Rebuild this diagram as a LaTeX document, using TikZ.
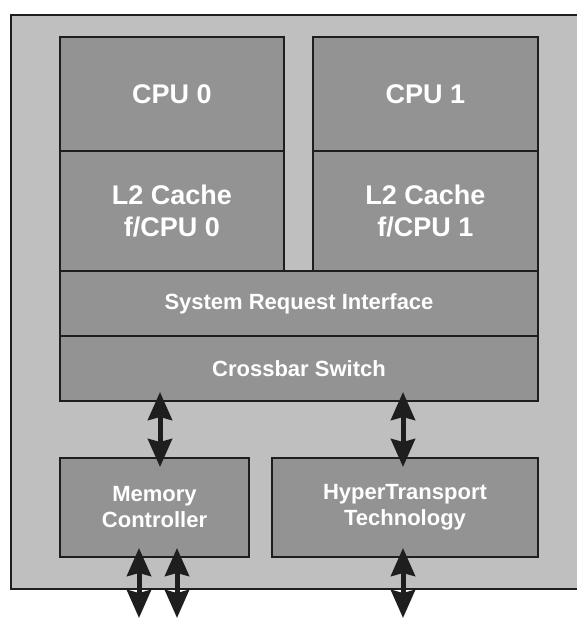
\documentclass[tikz,border=0pt]{standalone}
\usepackage{fontspec}
\setmainfont{Liberation Sans}
\usetikzlibrary{positioning,arrows.meta}

\definecolor{chipgray}{HTML}{BFBFBF}
\definecolor{boxgray}{HTML}{939393}
\definecolor{edgegray}{HTML}{1E1E1E}

\begin{document}
\begin{tikzpicture}[
    x = 1pt,
    y = -1pt,
    block/.style={
        draw = edgegray,
        line width = 2.6pt,
        fill = boxgray,
        text = white,
        align = center,
        inner sep = 0pt,
        outer sep = 0pt
    },
    big/.style={
        block,
        font = \fontsize{27}{32}\selectfont\bfseries
    },
    small/.style={
        block,
        font = \fontsize{22}{26}\selectfont\bfseries
    },
    dblarrow/.style={
        draw = edgegray,
        line width = 5pt,
        {Stealth[width=24pt,length=28pt,inset=3pt]}-{Stealth[width=24pt,length=28pt,inset=3pt]},
        shorten <= -9pt,
        shorten >= -9pt
    },
    outarrow/.style={
        dblarrow,
        shorten >= 0pt
    }
    ]

\useasboundingbox (0,0) rectangle (576,618);

% chip package
\fill[chipgray] (11,15) rectangle (580,589);
\draw[edgegray, line width = 2pt] (580,15) -- (11,15) -- (11,589) -- (580,589);

% cores and caches
\node[big, minimum width = 224, minimum height = 114, anchor = north west] (cpu0) at (60,37) {CPU 0};
\node[big, minimum width = 224, minimum height = 120, below = 0pt of cpu0] (cache0) {L2 Cache\\f/CPU 0};
\node[big, minimum width = 225, minimum height = 114, right = 29pt of cpu0] (cpu1) {CPU 1};
\node[big, minimum width = 225, minimum height = 120, below = 0pt of cpu1] (cache1) {L2 Cache\\f/CPU 1};

% shared logic
\node[small, minimum width = 478, minimum height = 65, anchor = north west] (sri) at (cache0.south west) {System Request Interface};
\node[small, minimum width = 478, minimum height = 65, below = 0pt of sri] (xbar) {Crossbar Switch};

% interfaces
\node[small, minimum width = 189, minimum height = 99, anchor = north west] (memctl) at (60,458) {Memory\\Controller};
\node[small, minimum width = 266, minimum height = 99, right = 23pt of memctl] (ht) {HyperTransport\\Technology};

% off-chip ends
\coordinate (mem0) at (139,618);
\coordinate (mem1) at (177,618);
\coordinate (htout) at (403,618);

\draw[dblarrow] ([xshift=5.5pt]memctl.north |- xbar.south) -- ([xshift=5.5pt]memctl.north);
\draw[dblarrow] ([xshift=-2pt]ht.north |- xbar.south) -- ([xshift=-2pt]ht.north);
\draw[outarrow] (memctl.south -| mem0) -- (mem0);
\draw[outarrow] (memctl.south -| mem1) -- (mem1);
\draw[outarrow] (ht.south -| htout) -- (htout);
\end{tikzpicture}
\end{document}
